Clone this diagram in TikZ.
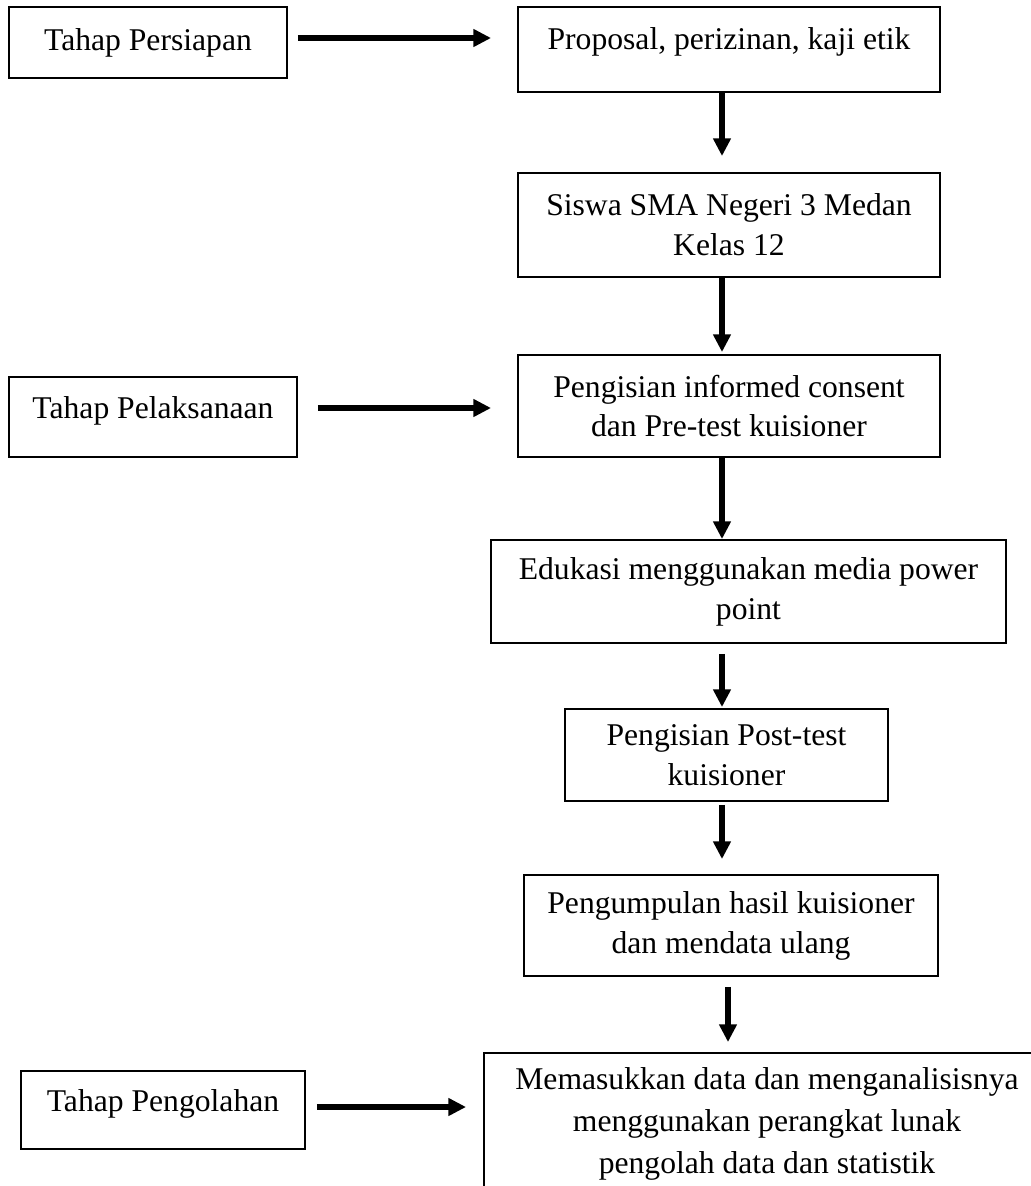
\documentclass[tikz,border=0pt]{standalone}
\usepackage{fontspec}
\setmainfont{Liberation Serif}
\usetikzlibrary{arrows.meta,calc}

\begin{document}
\begin{tikzpicture}[
    font=\fontsize{18}{22.7}\selectfont,
    box/.style={draw=black, line width=1.1pt, align=center, inner sep=2pt},
    phase/.style={box, text depth=0.36cm},
    flow/.style={line width=3.5pt, -{Triangle[length=10pt, width=9.6pt]}},
]
\clip[use as bounding box] (0,0) rectangle (20.62,-23.72);

% ---- left column: the three stages ----
\node[box, minimum width=5.56cm, minimum height=1.42cm] (persiapan) at (2.96,-0.85) {Tahap Persiapan};
\node[phase, minimum width=5.76cm, minimum height=1.60cm] (pelaksanaan) at (3.06,-8.34) {Tahap Pelaksanaan};
\node[phase, minimum width=5.68cm, minimum height=1.56cm] (pengolahan) at (3.26,-22.20) {Tahap Pengolahan};

% ---- right column: the steps ----
\node[box, text depth=0.42cm, minimum width=8.44cm, minimum height=1.70cm] (proposal) at (14.58,-0.99)
    {Proposal, perizinan, kaji etik};
\node[box, minimum width=8.44cm, minimum height=2.08cm] (siswa) at (14.58,-4.50)
    {Siswa SMA Negeri 3 Medan\\Kelas 12};
\node[box, minimum width=8.44cm, minimum height=2.04cm] (pretest) at (14.58,-8.12)
    {Pengisian informed consent\\dan Pre-test kuisioner};
\node[box, minimum width=10.30cm, minimum height=2.06cm] (edukasi) at (14.97,-11.83)
    {Edukasi menggunakan media power\\point};
\node[box, minimum width=6.46cm, minimum height=1.84cm] (posttest) at (14.53,-15.10)
    {Pengisian Post-test\\kuisioner};
\node[box, minimum width=8.28cm, minimum height=2.02cm] (kumpul) at (14.62,-18.51)
    {Pengumpulan hasil kuisioner\\dan mendata ulang};
\node[box, font=\fontsize{18}{24}\selectfont, minimum width=11.32cm, minimum height=2.84cm] (analisis) at (15.34,-22.48)
    {Memasukkan data dan menganalisisnya\\menggunakan perangkat lunak\\pengolah data dan statistik};

% axis of the downward arrows
\coordinate (axis) at (14.44,0);
\coordinate (axisb) at (14.56,0);

\draw[flow, shorten >=0.32cm] (proposal.south -| axis) -- (siswa.north -| axis);
\draw[flow, shorten >=0.04cm] (siswa.south -| axis) -- (pretest.north -| axis);
\draw[flow] (pretest.south -| axis) -- (edukasi.north -| axis);
\draw[flow, shorten <=0.2cm, shorten >=0.02cm] (edukasi.south -| axis) -- (posttest.north -| axis);
\draw[flow, shorten <=0.06cm, shorten >=0.3cm] (posttest.south -| axis) -- (kumpul.north -| axis);
\draw[flow, shorten <=0.2cm, shorten >=0.2cm] (kumpul.south -| axisb) -- (analisis.north -| axisb);

% ---- stage arrows ----
\draw[flow] ($(persiapan.east)+(0.2,0.09)$) -- ($(persiapan.east -| proposal.west)+(-0.52,0.09)$);
\draw[flow] ($(pelaksanaan.east)+(0.4,0.18)$) -- ($(pelaksanaan.east -| pretest.west)+(-0.52,0.18)$);
\draw[flow] ($(pengolahan.east)+(0.22,0.06)$) -- ($(pengolahan.east -| analisis.west)+(-0.34,0.06)$);
\end{tikzpicture}
\end{document}
